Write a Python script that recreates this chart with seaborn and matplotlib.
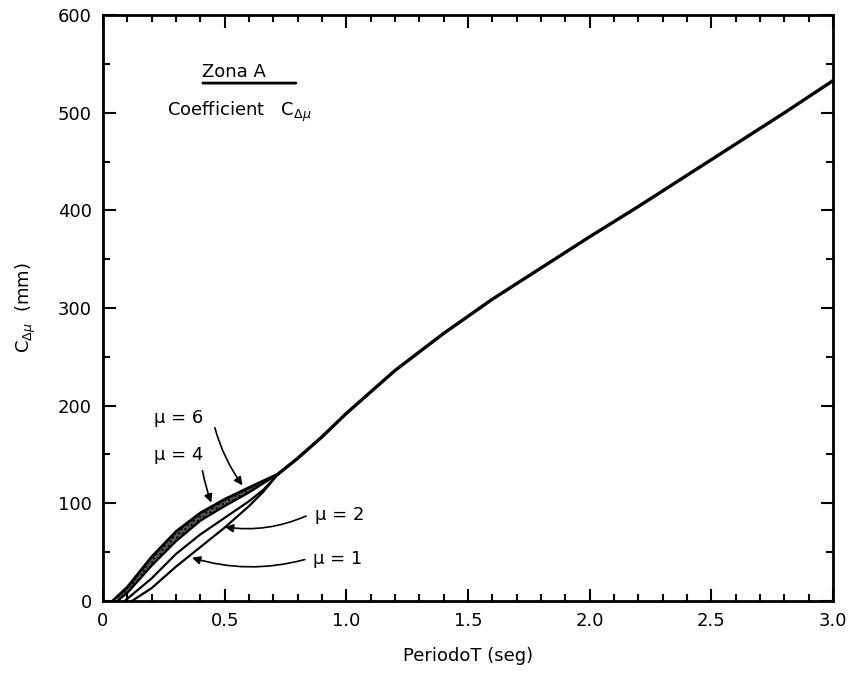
import numpy as np
import pandas as pd
import matplotlib
matplotlib.use("Agg")
import matplotlib.pyplot as plt
import seaborn as sns
from matplotlib.ticker import MultipleLocator

# ---- data ----
T_main = [0.72, 0.8, 0.9, 1.0, 1.2, 1.4, 1.6, 1.8, 2.0, 2.2, 2.4, 2.6, 2.8, 3.0]
C_main = [130, 146, 168, 192, 236, 274, 309, 341, 373, 404, 436, 468, 500, 533]

T_mu6 = [0.04, 0.1, 0.2, 0.3, 0.4, 0.5, 0.6, 0.72]
C_mu6 = [0, 14, 45, 71, 90, 104, 116, 130]
T_mu4 = [0.06, 0.1, 0.2, 0.3, 0.4, 0.5, 0.6, 0.72]
C_mu4 = [0, 8, 36, 61, 82, 97, 111, 130]
T_mu2 = [0.09, 0.2, 0.3, 0.4, 0.5, 0.6, 0.66, 0.72]
C_mu2 = [0, 23, 48, 68, 85, 102, 114, 130]
T_mu1 = [0.12, 0.2, 0.3, 0.4, 0.5, 0.6, 0.66, 0.72]
C_mu1 = [0, 13, 35, 55, 75, 97, 112, 130]

x_ticks = [0, 0.5, 1.0, 1.5, 2.0, 2.5, 3.0]
x_tick_labels = ["0", "0.5", "1.0", "1.5", "2.0", "2.5", "3.0"]
y_ticks = [0, 100, 200, 300, 400, 500, 600]
y_tick_labels = ["0", "100", "200", "300", "400", "500", "600"]

sns.set_style("ticks")
plt.rcParams['font.family'] = ['DejaVu Sans']
plt.rcParams['text.color'] = 'black'
plt.rcParams['axes.labelcolor'] = 'black'
plt.rcParams['xtick.color'] = 'black'
plt.rcParams['ytick.color'] = 'black'
plt.rcParams['axes.edgecolor'] = 'black'

fig = plt.figure(figsize=(8.58, 6.89), dpi=100)
ax = fig.add_axes([0.120, 0.128, 0.851, 0.850])

df = pd.concat([
    pd.DataFrame({"T": T_main, "C": C_main, "s": "main"}),
    pd.DataFrame({"T": T_mu6, "C": C_mu6, "s": "mu6"}),
    pd.DataFrame({"T": T_mu4, "C": C_mu4, "s": "mu4"}),
    pd.DataFrame({"T": T_mu2, "C": C_mu2, "s": "mu2"}),
    pd.DataFrame({"T": T_mu1, "C": C_mu1, "s": "mu1"}),
])

widths = {"main": 2.4, "mu6": 2.0, "mu4": 1.6, "mu2": 1.6, "mu1": 1.6}
for name, sub in df.groupby("s", sort=False):
    sns.lineplot(data=sub, x="T", y="C", ax=ax, color="black",
                 lw=widths[name], sort=False, estimator=None)

# shaded band between mu=6 and mu=4
T_band = np.linspace(0.06, 0.72, 60)
ax.fill_between(T_band, np.interp(T_band, T_mu4, C_mu4),
                np.interp(T_band, T_mu6, C_mu6),
                facecolor="#555555", edgecolor="black", hatch="....", lw=0)

ax.set_xlim(0, 3.0)
ax.set_ylim(0, 600)
ax.set_xticks(x_ticks)
ax.set_xticklabels(x_tick_labels)
ax.set_yticks(y_ticks)
ax.set_yticklabels(y_tick_labels)
ax.xaxis.set_minor_locator(MultipleLocator(0.1))
ax.yaxis.set_minor_locator(MultipleLocator(50))
ax.tick_params(which="both", direction="in", top=True, right=True,
               width=1.5, labelsize=13, pad=8, colors="black")
ax.tick_params(which="major", length=9)
ax.tick_params(which="minor", length=5)
for sp in ax.spines.values():
    sp.set_visible(True)
    sp.set_linewidth(2)
    sp.set_color("black")

ax.set_xlabel("PeriodoT (seg)", fontsize=13, labelpad=12)
ax.set_ylabel(r"$\mathrm{C}_{\Delta\mu}$  (mm)", fontsize=13, labelpad=14)

ax.text(0.135, 0.903, "Zona A", transform=ax.transAxes, fontsize=13,
        va="center", ha="left")
ax.annotate("", xy=(0.133, 0.884), xytext=(0.268, 0.884),
            xycoords="axes fraction", textcoords="axes fraction",
            arrowprops=dict(arrowstyle="-", lw=2, color="black"))
ax.text(0.088, 0.834, r"Coefficient   $\mathrm{C}_{\Delta\mu}$",
        transform=ax.transAxes, fontsize=13, va="center", ha="left")

arrow_kw = dict(arrowstyle="-|>", color="black", lw=1.2, mutation_scale=12)
ax.text(0.21, 187, "μ = 6", fontsize=13, va="center", ha="left")
ax.annotate("", xy=(0.58, 116), xytext=(0.457, 180),
            arrowprops=dict(connectionstyle="arc3,rad=0.1", **arrow_kw))
ax.text(0.21, 149, "μ = 4", fontsize=13, va="center", ha="left")
ax.annotate("", xy=(0.449, 98), xytext=(0.407, 136),
            arrowprops=dict(connectionstyle="arc3,rad=0.05", **arrow_kw))
ax.text(0.87, 88, "μ = 2", fontsize=13, va="center", ha="left")
ax.annotate("", xy=(0.49, 76), xytext=(0.845, 88),
            arrowprops=dict(connectionstyle="arc3,rad=-0.15", **arrow_kw))
ax.text(0.865, 43, "μ = 1", fontsize=13, va="center", ha="left")
ax.annotate("", xy=(0.355, 45), xytext=(0.84, 43),
            arrowprops=dict(connectionstyle="arc3,rad=-0.15", **arrow_kw))

fig.savefig("out.png", dpi=100)
